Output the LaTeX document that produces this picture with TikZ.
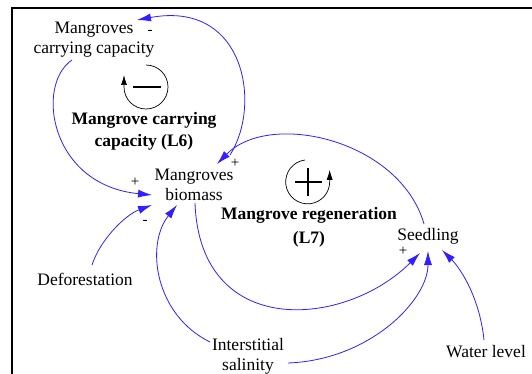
\documentclass[tikz,border=0pt]{standalone}
\usepackage{fontspec}
\setmainfont{Liberation Serif}
\usetikzlibrary{arrows.meta}
\definecolor{linkblue}{RGB}{50,30,255}
\begin{document}
\begin{tikzpicture}[x=1pt,y=-1pt,
  lbl/.style={font=\fontsize{17.5}{20}\selectfont, align=center, inner sep=0pt},
  looplbl/.style={font=\fontsize{17.5}{22}\selectfont\bfseries, align=center, inner sep=0pt},
  sgn/.style={font=\fontsize{15}{15}\selectfont, inner sep=0pt},
  link/.style={draw=linkblue, line width=0.8pt, -{Latex[length=14pt,width=8pt]}},
  loopsym/.style={draw=black, line width=0.7pt, -{Latex[length=10pt,width=6pt]}},
  frame/.style={draw=black, line width=2.5pt},
]
\useasboundingbox (0,0) rectangle (532,374);
\fill[white] (0,0) rectangle (532,374);
% frame
\draw[frame] (12,374) -- (12,8) -- (532,8);

% variables
\node[lbl] (cc) at (94,40) {Mangroves\\carrying capacity};
\node[lbl] (bio) at (194,185) {Mangroves\\biomass};
\node[lbl] (seed) at (428,236) {Seedling};
\node[lbl] (def) at (85,279) {Deforestation};
\node[lbl] (sal) at (248,356) {Interstitial\\salinity};
\node[lbl] (wl) at (486,352) {Water level};

% loop labels
\node[looplbl] (l6) at (144,131) {Mangrove carrying\\capacity (L6)};
\node[looplbl, font=\fontsize{17.5}{24}\selectfont\bfseries] (l7) at (309,227) {Mangrove regeneration\\(L7)};

% polarity signs
\node[sgn] (s1) at (150,32) {-};
\node[sgn] (s2) at (235,163) {+};
\node[sgn] (s3) at (135,182) {+};
\node[sgn] (s4) at (145,222) {-};
\node[sgn] (s5) at (403,251) {+};

% loop symbols
\draw[loopsym] (146,65) arc[start angle=-90, end angle=180, radius=22] -- ++(0,-12);
\draw[line width=1.6pt] (133,87) -- (161,87);
\draw[loopsym] (305,160) arc[start angle=-97, end angle=-360, radius=22] -- ++(0,-12);
\draw[line width=1.8pt] (295,182) -- (322,182);
\draw[line width=1.8pt] (308,168) -- (308,196);

% connectors
\draw[link] ([shift={(36,-30)}]bio.center) .. controls (262,105) and (245,0) .. ([shift={(43,-20)}]cc.center);
\draw[link] ([shift={(-22,20)}]cc.center) .. controls (35,85) and (50,185) .. ([shift={(-42,10)}]bio.center);
\draw[link] ([shift={(7,-14)}]def.center) .. controls (100,240) and (125,215) .. ([shift={(-42,20)}]bio.center);
\draw[link] ([shift={(-38,-14)}]sal.center) .. controls (155,315) and (145,245) .. ([shift={(-17,20)}]bio.center);
\draw[link] ([shift={(1,18)}]bio.center) .. controls (200,340) and (345,328) .. ([shift={(-8,17)}]seed.center);
\draw[link] ([shift={(-4,-12)}]seed.center) .. controls (400,140) and (270,110) .. ([shift={(23,-21)}]bio.center);
\draw[link] ([shift={(40,7)}]sal.center) .. controls (370,360) and (428,300) .. ([shift={(0,15)}]seed.center);
\draw[link] ([shift={(-2,-12)}]wl.center) .. controls (480,300) and (462,270) .. ([shift={(14,14)}]seed.center);
\end{tikzpicture}
\end{document}
